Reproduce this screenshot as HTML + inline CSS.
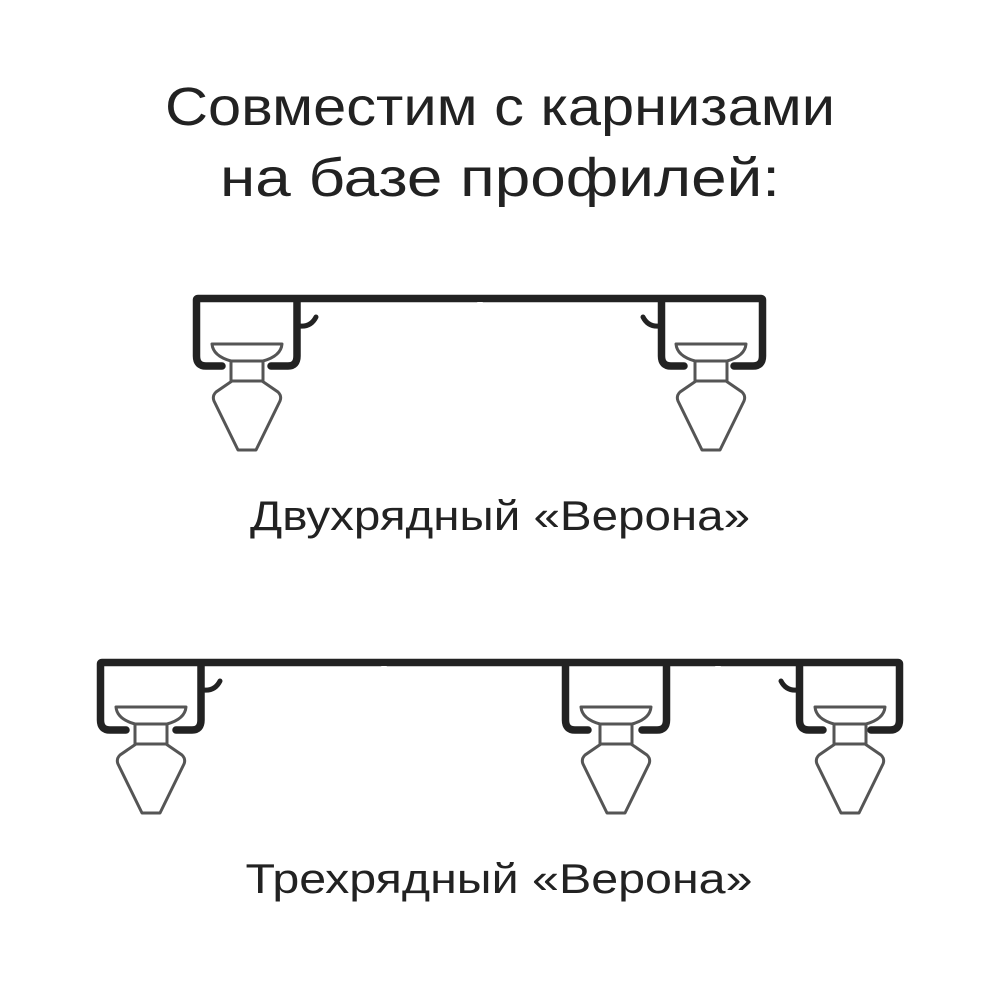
<!DOCTYPE html>
<html><head><meta charset="utf-8"><style>html,body{margin:0;padding:0;background:#fff}svg{display:block}</style></head>
<body>
<svg width="1000" height="1000" viewBox="0 0 1000 1000" xmlns="http://www.w3.org/2000/svg">
<defs>
<g id="run" fill="#fff" stroke="#555" stroke-width="3" stroke-linejoin="round">
  <path d="M-35,0 H35 Q34,12 16,17 H-16 Q-34,12 -35,0 Z"/>
  <rect x="-16" y="17" width="32" height="20"/>
  <path d="M-15,37 H15 L31,48 Q35,52 33,57 L9,106 H-9 L-33,57 Q-35,52 -31,48 Z"/>
</g>
</defs>
<g font-family="'Liberation Sans','DejaVu Sans',sans-serif" fill="#222" text-anchor="middle">
<text x="500" y="125" font-size="54" textLength="670" lengthAdjust="spacingAndGlyphs">Совместим с карнизами</text>
<text x="500" y="196" font-size="54" textLength="560" lengthAdjust="spacingAndGlyphs">на базе профилей:</text>
<text x="500" y="530" font-size="42" textLength="500" lengthAdjust="spacingAndGlyphs">Двухрядный «Верона»</text>
<text x="499" y="893" font-size="42" textLength="507" lengthAdjust="spacingAndGlyphs">Трехрядный «Верона»</text>
</g>
<g fill="none" stroke="#222" stroke-width="7.5" stroke-linejoin="round" stroke-linecap="round">
  <path d="M222,366 H206 Q196.5,366 196.5,356 V300 Q196.5,298.5 198,298.5 H761 Q762.5,298.5 762.5,300 V356 Q762.5,366 753,366 H734"/>
  <path d="M271,366 H288 Q297,366 297,356 V299"/>
  <path d="M684,366 H671 Q661.5,366 661.5,356 V299"/>
  <path d="M316,317 Q311,327 300,326" stroke-width="5"/>
  <path d="M643,317 Q648,327 659,326" stroke-width="5"/>
  <path d="M126,730 H110 Q100.5,730 100.5,720 V664 Q100.5,662.5 102,662.5 H898 Q899.5,662.5 899.5,664 V720 Q899.5,730 890,730 H871"/>
  <path d="M176,730 H192 Q201,730 201,720 V663"/>
  <path d="M588,730 H575 Q565.5,730 565.5,720 V663"/>
  <path d="M642,730 H657 Q666.5,730 666.5,720 V663"/>
  <path d="M823,730 H809 Q799.5,730 799.5,720 V663"/>
  <path d="M220,681 Q215,691 204,690" stroke-width="5"/>
  <path d="M781,681 Q786,691 797,690" stroke-width="5"/>
</g>
<g fill="#fff">
  <path d="M477,302 l3,3 l3,-3 z"/>
  <path d="M381,666 l3,3 l3,-3 z"/><path d="M715,666 l3,3 l3,-3 z"/>
</g>
<use href="#run" x="247" y="344"/>
<use href="#run" x="711" y="344"/>
<use href="#run" x="151" y="707"/>
<use href="#run" x="616" y="707"/>
<use href="#run" x="850" y="707"/>
</svg>
</body></html>
